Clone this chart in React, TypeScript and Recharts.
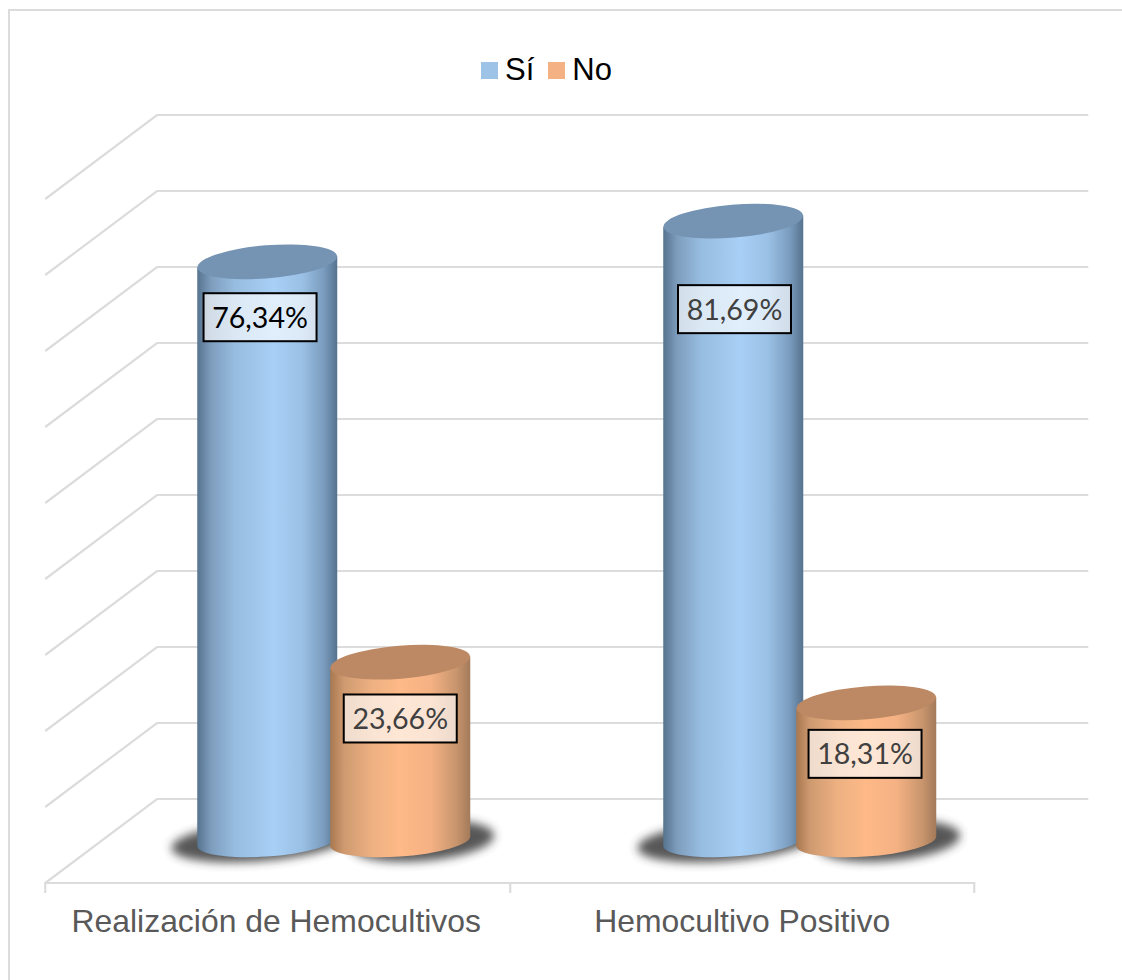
import React from "react";
import {
  BarChart,
  Bar,
  XAxis,
  YAxis,
  CartesianGrid,
  Legend,
  LabelList,
} from "recharts";

const categories = ["Realización de Hemocultivos", "Hemocultivo Positivo"];
const siValues = [76.34, 81.69];
const noValues = [23.66, 18.31];
const yTicks = [0, 10, 20, 30, 40, 50, 60, 70, 80, 90];

const chartData = categories.map((name, i) => ({
  name,
  si: siValues[i],
  no: noValues[i],
}));

const GRID = "#dcdcdc";
const TILT = 5.8;
const RY = 16.5;

function GridLine(props: any) {
  const { x1, x2, y1 } = props;
  const back = y1 - 43;
  const front = y1 + 41;
  const isBase = Math.abs(y1 - 842) < 1;
  return (
    <g fill="none" stroke={GRID} strokeWidth={2.2}>
      <polyline points={`${x1 - 55},${front} ${x1 + 56.75},${back} ${x2 + 56},${back}`} />
      {isBase && (
        <path
          d={`M${x1 - 55},${front + 10}V${front}H${x2 - 58}V${front + 10}M${(x1 + x2) / 2 - 56},${front}v10`}
        />
      )}
    </g>
  );
}

function Cylinder(props: any) {
  const { x, y, width, height, gradient, cap, shadowCx, shadowRx } = props;
  const r = width / 2;
  const cx = x + r;
  const base = y + height;
  const body = `M${x},${y + TILT}L${x},${base + 3.5}A${r} 15.5 -4 0 0 ${x + width},${base - 5.5}L${x + width},${y - TILT}Z`;
  return (
    <g>
      <ellipse
        cx={cx + shadowCx}
        cy={base - 1}
        rx={shadowRx}
        ry={20}
        fill="#333"
        opacity={0.82}
        filter="url(#cylShadow)"
        transform={`rotate(-4.7 ${cx + shadowCx} ${base - 1})`}
      />
      <path d={body} fill={`url(#${gradient})`} />
      <ellipse
        cx={cx}
        cy={y}
        rx={r}
        ry={RY}
        fill={cap}
        transform={`rotate(-4.7 ${cx} ${y})`}
      />
    </g>
  );
}

function makeLabel(nudges: number[][]) {
  return function ValueLabel(props: any) {
    const { x, y, width, value, index } = props;
    const [dx, dy] = nudges[index];
    const cx = x + width / 2 + dx;
    const cy = y + dy;
    const text = value.toFixed(2).replace(".", ",") + "%";
    return (
      <g>
        <rect x={cx - 56.5} y={cy - 24} width={113} height={48} fill="#fff" fillOpacity={0.65} />
        <rect x={cx - 56.5} y={cy - 24} width={113} height={48} fill="none" stroke="#000" strokeWidth={2} />
        <text
          x={cx}
          y={cy + 10.5}
          textAnchor="middle"
          fontFamily="Lato"
          fontSize={28.6}
          fill={value === siValues[0] ? "#000" : "#404040"}
        >
          {text}
        </text>
      </g>
    );
  };
}

function CategoryTick(props: any) {
  const { x, y, payload } = props;
  return (
    <text
      x={x - 57}
      y={y + 82}
      textAnchor="middle"
      fontFamily="Liberation Sans"
      fontSize={31.9}
      fill="#595959"
    >
      {payload.value}
    </text>
  );
}

function LegendRow({ payload }: any) {
  return (
    <div style={{ display: "flex", alignItems: "center", fontFamily: "Liberation Sans", fontSize: 31, color: "#000" }}>
      {payload.map((p: any, i: number) => (
        <div key={p.value} style={{ display: "flex", alignItems: "center", marginRight: i === 0 ? 14 : 0 }}>
          <span style={{ width: 17, height: 17, background: p.color, marginRight: 7, display: "inline-block" }} />
          <span>{p.value}</span>
        </div>
      ))}
    </div>
  );
}

export default function App() {
  return (
    <div style={{ position: "absolute", left: 0, top: 0, width: 1122, height: 980, background: "#fff" }}>
      <div
        style={{
          position: "absolute",
          left: 8,
          top: 9,
          right: 0,
          bottom: 0,
          borderLeft: `2px solid ${GRID}`,
          borderTop: `2px solid ${GRID}`,
        }}
      />
      <BarChart
        width={1122}
        height={980}
        data={chartData}
        margin={{ top: 158, right: 89.75, bottom: 78, left: 100.25 }}
        barSize={140}
        barGap={-7}
        style={{ position: "absolute", left: 0, top: 0 }}
      >
        <defs>
          <linearGradient id="cylBlue" x1="0" x2="1" y1="0" y2="0">
            <stop offset="0" stopColor="#56738f" />
            <stop offset="0.1" stopColor="#7e9dbd" />
            <stop offset="0.27" stopColor="#97bde0" />
            <stop offset="0.55" stopColor="#a8cff5" />
            <stop offset="0.75" stopColor="#9ac0e5" />
            <stop offset="0.9" stopColor="#7b9dbf" />
            <stop offset="1" stopColor="#56738f" />
          </linearGradient>
          <linearGradient id="cylOrange" x1="0" x2="1" y1="0" y2="0">
            <stop offset="0" stopColor="#a87850" />
            <stop offset="0.1" stopColor="#cf9a70" />
            <stop offset="0.3" stopColor="#eeb182" />
            <stop offset="0.5" stopColor="#feb987" />
            <stop offset="0.72" stopColor="#f4b183" />
            <stop offset="0.9" stopColor="#c8956d" />
            <stop offset="1" stopColor="#a37a5a" />
          </linearGradient>
          <filter id="cylShadow" x="-20%" y="-50%" width="140%" height="200%">
            <feGaussianBlur stdDeviation="5" />
          </filter>
        </defs>
        <CartesianGrid vertical={false} horizontal={GridLine as any} />
        <XAxis dataKey="name" height={60} axisLine={false} tickLine={false} tick={CategoryTick as any} interval={0} />
        <YAxis hide domain={[0, 90]} ticks={yTicks} />
        <Legend
          verticalAlign="middle"
          align="center"
          layout="horizontal"
          itemSorter={null as any}
          content={LegendRow as any}
          wrapperStyle={{ top: 52, left: 481, width: 160, height: 36 }}
        />
        <Bar
          dataKey="si"
          name="Sí"
          fill="#9dc3e6"
          isAnimationActive={false}
          shape={(p: any) => (
            <Cylinder {...p} gradient="cylBlue" cap="#7593b3" shadowCx={-6} shadowRx={90} />
          )}
        >
          <LabelList dataKey="si" content={makeLabel([[-7.2, 55.4], [1.25, 88]]) as any} />
        </Bar>
        <Bar
          dataKey="no"
          name="No"
          fill="#f4b183"
          isAnimationActive={false}
          shape={(p: any) => (
            <Cylinder {...p} gradient="cylOrange" cap="#bd8964" shadowCx={22} shadowRx={72} />
          )}
        >
          <LabelList dataKey="no" content={makeLabel([[0, 56.3], [-1.2, 51]]) as any} />
        </Bar>
      </BarChart>
    </div>
  );
}
